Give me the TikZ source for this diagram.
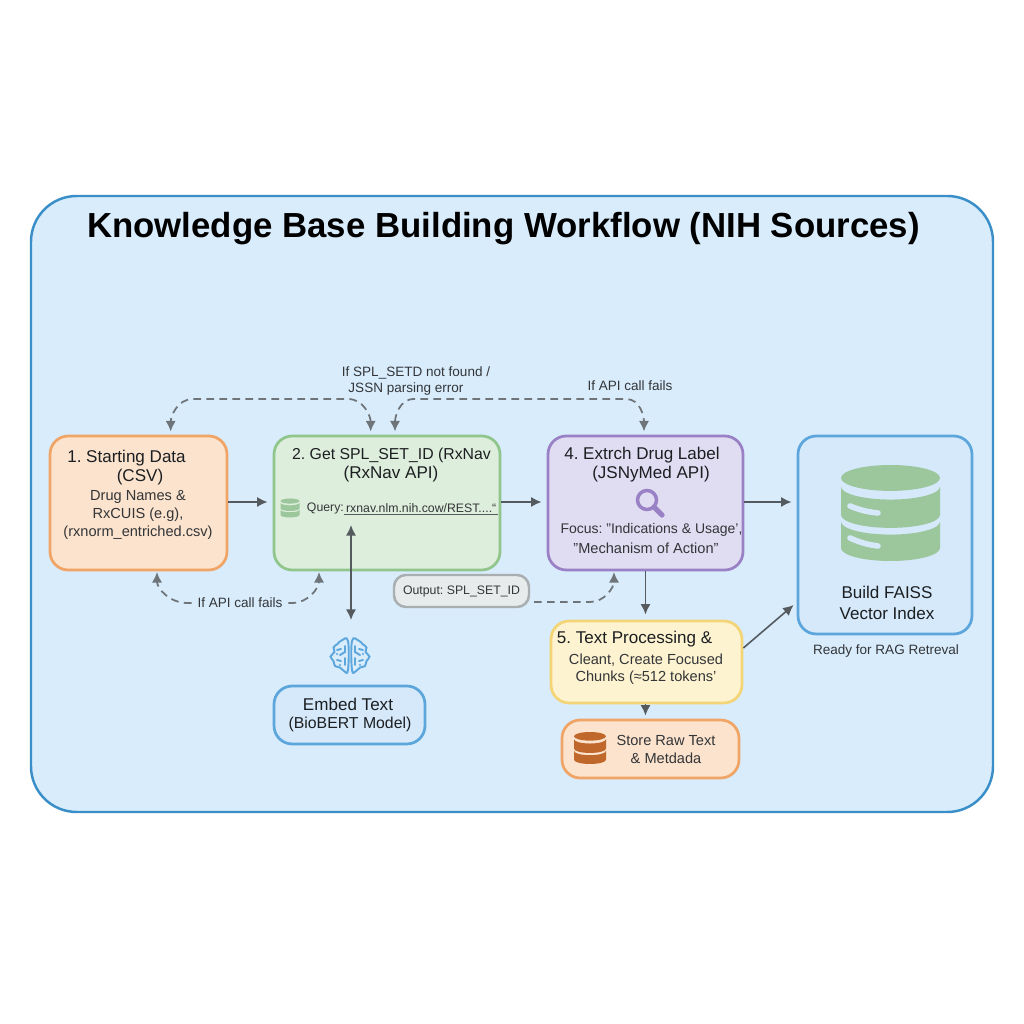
\documentclass[tikz,border=0pt]{standalone}
\usepackage{fontspec}
\setmainfont{Liberation Sans}
\usetikzlibrary{arrows.meta,positioning,calc}
\definecolor{panelfill}{HTML}{D8ECFC}
\definecolor{paneldraw}{HTML}{3A8FC9}
\definecolor{orangefill}{HTML}{FBE3CD}
\definecolor{orangedraw}{HTML}{F0A566}
\definecolor{greenfill}{HTML}{DEEEDC}
\definecolor{greendraw}{HTML}{90C68B}
\definecolor{purplefill}{HTML}{E0DDF2}
\definecolor{purpledraw}{HTML}{9A80C5}
\definecolor{bluefill}{HTML}{D5E9FA}
\definecolor{bluedraw}{HTML}{5CA6DC}
\definecolor{yellowfill}{HTML}{FDF3D0}
\definecolor{yellowdraw}{HTML}{F3D476}
\definecolor{greyfill}{HTML}{E8EBEB}
\definecolor{greydraw}{HTML}{A9AEB0}
\definecolor{dbgreen}{HTML}{9CC69B}
\definecolor{dbbrown}{HTML}{C0682C}
\definecolor{linegrey}{HTML}{555A5E}
\definecolor{dashgrey}{HTML}{6E7478}
\definecolor{inkblack}{HTML}{1C1F22}
\tikzset{
  box/.style={
    rounded corners=5.2pt,
    line width=0.78pt,
    inner sep=0pt
  },
  head/.style={font=\fontsize{4.85}{5.6}\selectfont, text=inkblack, inner sep=0.5pt, align=center},
  headsmall/.style={font=\fontsize{4.5}{5.6}\selectfont, text=inkblack, inner sep=0.5pt, align=center},
  body/.style={font=\fontsize{4.15}{5.1}\selectfont, text=inkblack!90, inner sep=0.5pt, align=center},
  note/.style={font=\fontsize{3.85}{4.6}\selectfont, text=inkblack!90, inner sep=1.5pt, align=center},
  notesmall/.style={font=\fontsize{3.5}{4.6}\selectfont, text=inkblack!90, inner sep=1.5pt, align=center},
  flow/.style={-{Latex[length=3pt,width=2.9pt]}, line width=0.55pt, draw=linegrey},
  retry/.style={-{Latex[length=3pt,width=2.9pt]}, line width=0.5pt, draw=dashgrey, dash pattern=on 2.2pt off 1.5pt}
}
\newcommand{\dbstack}[4]{
  \begin{scope}[shift={(#1)}, xscale=#2, yscale=#3]
    \fill[#4] (0,0.73) ellipse [x radius=1, y radius=0.27];
    \fill[#4] (-1,0.55) arc [start angle=180, end angle=360, x radius=1, y radius=0.27] -- (1,-0.04)
      arc [start angle=0, end angle=-180, x radius=1, y radius=0.27] -- cycle;
    \fill[#4] (-1,-0.18) arc [start angle=180, end angle=360, x radius=1, y radius=0.27] -- (1,-0.73)
      arc [start angle=0, end angle=-180, x radius=1, y radius=0.27] -- cycle;
  \end{scope}
}
\begin{document}
\frenchspacing
\begin{tikzpicture}
  \useasboundingbox (0,0) rectangle (10.24,10.24);
  \fill[white] (0,0) rectangle (10.24,10.24);
  \node[box, draw=paneldraw, fill=panelfill, line width=0.7pt, rounded corners=13pt, minimum width=9.62cm, minimum height=6.16cm] (panel) at (5.12,5.20) {};
  \node[font=\fontsize{9.9}{12}\selectfont\bfseries, text=black, inner sep=0pt] (title) at (5.035,7.95) {Knowledge Base Building Workflow (NIH Sources)};

  \node[box, draw=orangedraw, fill=orangefill, minimum width=1.77cm, minimum height=1.34cm] (start) at (1.385,5.21) {};
  \node[box, draw=greendraw, fill=greenfill, minimum width=2.26cm, minimum height=1.34cm] (getid) at (3.87,5.21) {};
  \node[box, draw=purpledraw, fill=purplefill, minimum width=1.95cm, minimum height=1.34cm] (extract) at (6.455,5.21) {};
  \node[box, draw=bluedraw, fill=bluefill, minimum width=1.74cm, minimum height=1.98cm] (faiss) at (8.85,4.89) {};
  \node[box, draw=yellowdraw, fill=yellowfill, minimum width=1.91cm, minimum height=0.82cm] (textproc) at (6.465,3.62) {};
  \node[box, draw=orangedraw, fill=orangefill, minimum width=1.77cm, minimum height=0.58cm] (rawstore) at (6.505,2.75) {};
  \node[box, draw=bluedraw, fill=bluefill, minimum width=1.51cm, minimum height=0.58cm] (embed) at (3.495,3.09) {};
  \node[box, draw=greydraw, fill=greyfill, line width=0.7pt, rounded corners=3.4pt, minimum width=1.35cm, minimum height=0.32cm] (output) at (4.615,4.33) {};

  \node[head] (startA) at (1.265,5.66) {1. Starting Data};
  \node[head] at (1.40,5.47) {(CSV)};
  \node[body] at (1.38,5.09) {Drug Names \&\\RxCUIS (e.g),\\(rxnorm\_entriched.csv)};
  \node[headsmall] at (3.915,5.69) {2. Get SPL\_SET\_ID (RxNav};
  \node[head] at (3.91,5.50) {(RxNav API)};
  \node[notesmall, anchor=west] (query) at (3.01,5.16) {Query:};
  \node[notesmall, anchor=west, inner sep=0.4pt] (querylink) at (3.44,5.16) {rxnav.nlm.nih.cow/REST....“};
  \node[head] at (6.42,5.69) {4. Extrch Drug Label};
  \node[head] at (6.51,5.50) {(JSNyMed API)};
  \node[body, font=\fontsize{3.98}{5.1}\selectfont] at (6.515,4.94) {Focus: "Indications \& Usage',};
  \node[body] at (6.46,4.76) {"Mechanism of Action"};
  \node[head] at (8.87,4.32) {Build FAISS};
  \node[head] at (8.87,4.11) {Vector Index};
  \node[note] at (8.86,3.73) {Ready for RAG Retreval};
  \node[head] at (6.345,3.85) {5. Text Processing \&};
  \node[body] at (6.46,3.64) {Cleant, Create Focused};
  \node[body] at (6.46,3.46) {Chunks (≈512 tokens'};
  \node[body] at (6.66,2.84) {Store Raw Text};
  \node[body] at (6.66,2.66) {\& Metdada};
  \node[head] at (3.48,3.20) {Embed Text};
  \node[headsmall] at (3.50,3.00) {(BioBERT Model)};
  \node[notesmall] at (4.615,4.33) {Output: SPL\_SET\_ID};
  \node[note] at (4.16,6.51) {If SPL\_SETD not found /};
  \node[note] at (4.06,6.35) {JSSN parsing error};
  \node[note] at (6.30,6.38) {If API call fails};
  \node[note] (faillabel) at (2.40,4.21) {If API call fails};

  \draw[linegrey, line width=0.25pt] (querylink.south west) -- (querylink.south east);

  \dbstack{2.90,5.16}{0.095}{0.095}{dbgreen}
  \dbstack{8.905,5.11}{0.495}{0.48}{dbgreen}
  \dbstack{5.90,2.76}{0.16}{0.16}{dbbrown}
  \draw[bluefill, line width=1.6pt, line cap=round] (8.50,5.18) to[bend right=8] (8.78,5.11);
  \draw[bluefill, line width=1.6pt, line cap=round] (8.50,4.86) to[bend right=8] (8.78,4.78);

  \draw[purpledraw, line width=1pt] (6.47,5.24) circle (0.095);
  \draw[purpledraw, line width=1.5pt, line cap=round] (6.54,5.17) -- (6.62,5.09);

  \begin{scope}[shift={(3.50,3.68)}, bluedraw, line width=0.55pt, line cap=round]
    \foreach \s in {1,-1} {
      \begin{scope}[xscale=\s]
        \draw plot[smooth cycle, tension=0.7] coordinates {(-.02,.15) (-.085,.155) (-.125,.12) (-.165,.085) (-.155,.04) (-.195,-.005) (-.165,-.05) (-.15,-.1) (-.1,-.115) (-.06,-.15) (-.02,-.14)};
        \draw (-.05,.10) -- (-.05,.04) -- (-.10,.01);
        \draw (-.13,.06) -- (-.09,.07);
        \draw (-.05,-.02) -- (-.05,-.09);
        \draw (-.13,-.04) -- (-.09,-.05);
        \fill (-.13,.02) circle (0.012);
        \fill (-.10,-.09) circle (0.012);
      \end{scope}
    }
  \end{scope}

  \coordinate (starttop) at (1.707,5.925);
  \coordinate (getidtopA) at (3.707,5.925);
  \coordinate (getidtopB) at (3.95,5.925);
  \coordinate (extracttop) at (6.44,5.925);
  \coordinate (startlow) at (1.57,4.52);
  \coordinate (getidlow) at (3.19,4.52);
  \coordinate (extractlow) at (6.14,4.52);
  \coordinate (outputtail) at (5.34,4.22);
  \coordinate (queryup) at (3.51,4.99);
  \coordinate (brainup) at (3.51,4.04);

  \draw[flow] (start.east |- 0,5.22) -- ($(getid.west |- 0,5.22)+(-0.05,0)$);
  \draw[flow] (getid.east |- 0,5.22) -- ($(extract.west |- 0,5.22)+(-0.05,0)$);
  \draw[flow] (extract.east |- 0,5.22) -- ($(faiss.west |- 0,5.22)+(-0.05,0)$);
  \draw[flow] (extract.south) -- ($(extract.south |- textproc.north)+(0,0.05)$);
  \draw[flow, line width=0.45pt] (textproc.east |- 0,3.76) -- ($(faiss.west |- 0,4.19)+(-0.03,0)$);
  \draw[flow] (textproc.south -| extract.south) -- ($(extract.south |- rawstore.north)+(0,0.03)$);
  \draw[flow, {Latex[length=3pt,width=2.9pt]}-{Latex[length=3pt,width=2.9pt]}] (queryup) -- (brainup);

  \draw[retry, {Latex[length=3pt,width=2.9pt]}-{Latex[length=3pt,width=2.9pt]}] (getidtopA) to[out=90,in=0] (3.48,6.25) -- (1.93,6.25) to[out=180,in=90] (starttop);
  \draw[retry, {Latex[length=3pt,width=2.9pt]}-{Latex[length=3pt,width=2.9pt]}] (getidtopB) to[out=90,in=180] (4.14,6.25) -- (6.26,6.25) to[out=0,in=90] (extracttop);
  \draw[retry] (faillabel.west) -- (1.87,4.21) to[out=180,in=-90] (startlow);
  \draw[retry] (faillabel.east) -- (2.92,4.21) to[out=0,in=-90] (getidlow);
  \draw[retry] (outputtail) -- (5.90,4.22) to[out=0,in=-90] (extractlow);
\end{tikzpicture}
\end{document}
